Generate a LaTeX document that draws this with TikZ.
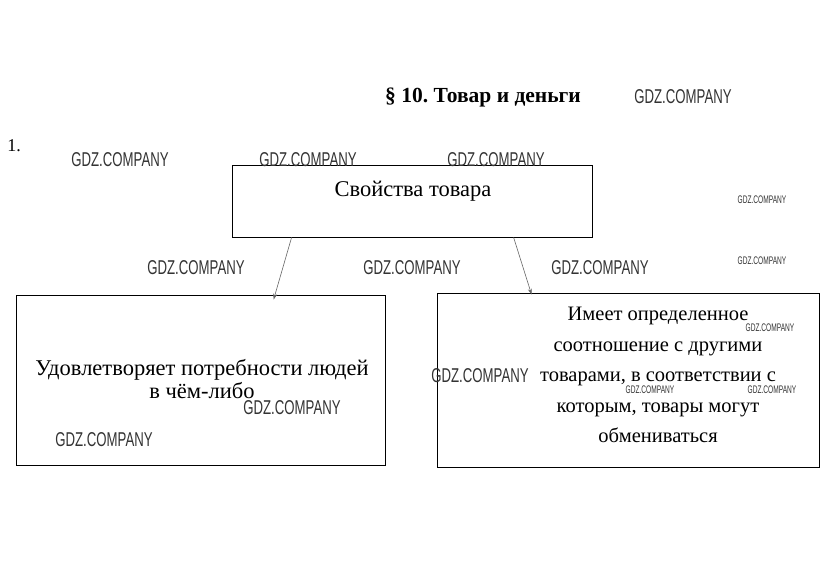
\documentclass[tikz,border=0pt]{standalone}
\usepackage{fontspec}
\setmainfont{Liberation Serif}
\newfontfamily\wmfont[FakeStretch=0.66]{Liberation Sans}
\newfontfamily\wmsmall[FakeStretch=0.6]{Liberation Sans}
\usetikzlibrary{arrows.meta}
\frenchspacing
\tikzset{
    box/.style={draw, line width=0.8pt, inner sep=0pt},
    boxtext/.style={font=\fontsize{20.5}{30.5}\selectfont, align=center, inner sep=1pt},
    arr/.style={-{Stealth[length=6pt,width=4pt]}, draw=black!60, line width=0.6pt},
    wm/.style={text=black!80, font=\wmfont\fontsize{20}{20}\selectfont, inner sep=0pt},
    wms/.style={text=black!80, font=\wmsmall\fontsize{11}{11}\selectfont, inner sep=0pt}
}
\begin{document}
\begin{tikzpicture}[x=1pt, y=-1pt]
    \useasboundingbox[fill=white] (0, 0) rectangle (830, 568);

    % Heading
    \node[font=\bfseries\fontsize{21.5}{21.5}\selectfont] (title) at (483, 97) {§ 10. Товар и деньги};
    \node[font=\fontsize{18}{18}\selectfont] (num) at (14, 146) {1.};

    % Boxes
    \node[box, minimum width=360pt, minimum height=72pt] (top) at (412, 201) {};
    \node[box, minimum width=369pt, minimum height=170pt] (left) at (200.5, 380) {};
    \node[box, minimum width=382pt, minimum height=174pt] (right) at (628, 380) {};

    % Texts
    \node[boxtext, font=\fontsize{22.5}{22.5}\selectfont] (toptext) at (413, 191) {Свойства товара};
    \node[boxtext, font=\fontsize{22.5}{23}\selectfont] (lefttext) at (202, 379) {Удовлетворяет потребности людей\\в чём-либо};
    \node[boxtext] (righttext) at (658, 375) {Имеет определенное\\соотношение с другими\\товарами, в соответствии с\\которым, товары могут\\обмениваться};

    % Arrows
    \draw[arr] ([xshift=60pt]top.south west) -- ([xshift=258pt, yshift=-5pt]left.north west);
    \draw[arr] ([xshift=282pt]top.south west) -- ([xshift=95pt, yshift=-2pt]right.north west);

    % Watermarks
    \node[wm] (wm1) at (683, 97) {GDZ.COMPANY};
    \node[wm] (wm2) at (120, 160) {GDZ.COMPANY};
    \node[wm] (wm3) at (308, 160) {GDZ.COMPANY};
    \node[wm] (wm4) at (496, 160) {GDZ.COMPANY};
    \node[wm] (wm5) at (196, 268) {GDZ.COMPANY};
    \node[wm] (wm6) at (412, 268) {GDZ.COMPANY};
    \node[wm] (wm7) at (600, 268) {GDZ.COMPANY};
    \node[wm] (wm8) at (480, 376) {GDZ.COMPANY};
    \node[wm] (wm9) at (292, 408) {GDZ.COMPANY};
    \node[wm] (wm10) at (104, 440) {GDZ.COMPANY};
    \node[wms] (wm11) at (762, 200) {GDZ.COMPANY};
    \node[wms] (wm12) at (762, 261) {GDZ.COMPANY};
    \node[wms] (wm13) at (770, 328) {GDZ.COMPANY};
    \node[wms] (wm14) at (650, 390) {GDZ.COMPANY};
    \node[wms] (wm15) at (772, 390) {GDZ.COMPANY};
\end{tikzpicture}
\end{document}
